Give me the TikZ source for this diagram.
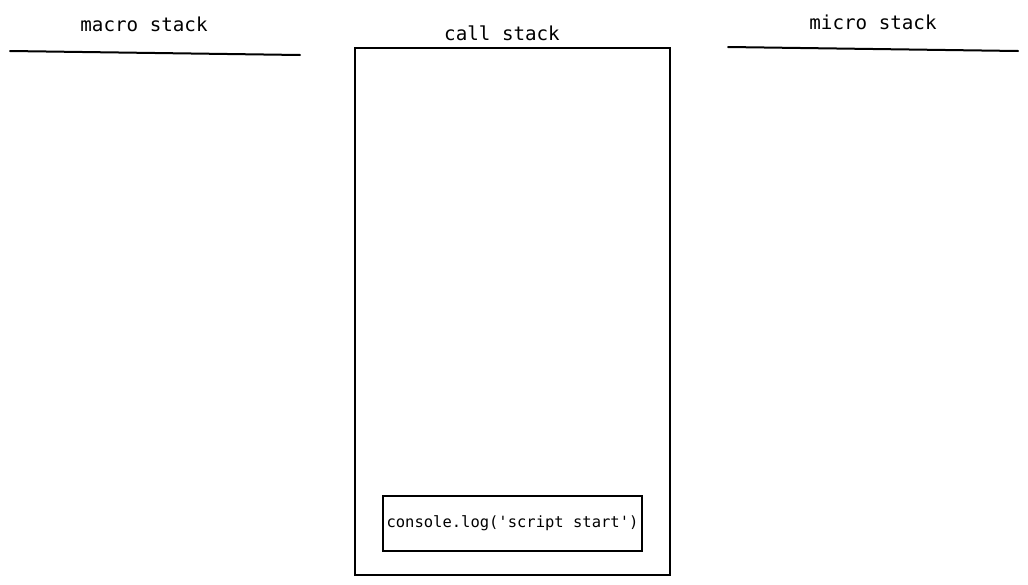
\documentclass[tikz,border=0pt]{standalone}
\usepackage{fontspec}
\setmonofont{DejaVu Sans Mono}
\begin{document}
\begin{tikzpicture}[x=1pt,y=-1pt,
  title/.style={font=\ttfamily\fontsize{19.2}{21}\selectfont, inner sep=0pt, anchor=center},
  stackline/.style={line width=2pt, line cap=round},
  frame/.style={draw, line width=2pt},
  item/.style={draw, line width=1.3pt, font=\ttfamily\fontsize{15.5}{17}\selectfont, inner sep=0pt}]
\useasboundingbox (0,0) rectangle (1028,584);
\node[title] (macrot) at (144,24) {macro stack};
\node[title] (callt) at (502,33) {call stack};
\node[title] (microt) at (873,22) {micro stack};
\coordinate (ma) at (10,51);
\coordinate (mb) at (300,55);
\draw[stackline] (ma) -- (mb);
\coordinate (mia) at (728,47);
\coordinate (mib) at (1018,51);
\draw[stackline] (mia) -- (mib);
\node[frame, minimum width=315pt, minimum height=527pt] (call) at (512.5,311.5) {};
\node[item, minimum width=259pt, minimum height=55pt] (log) at (512.5,523.5) {console.log('script start')};
\end{tikzpicture}
\end{document}
